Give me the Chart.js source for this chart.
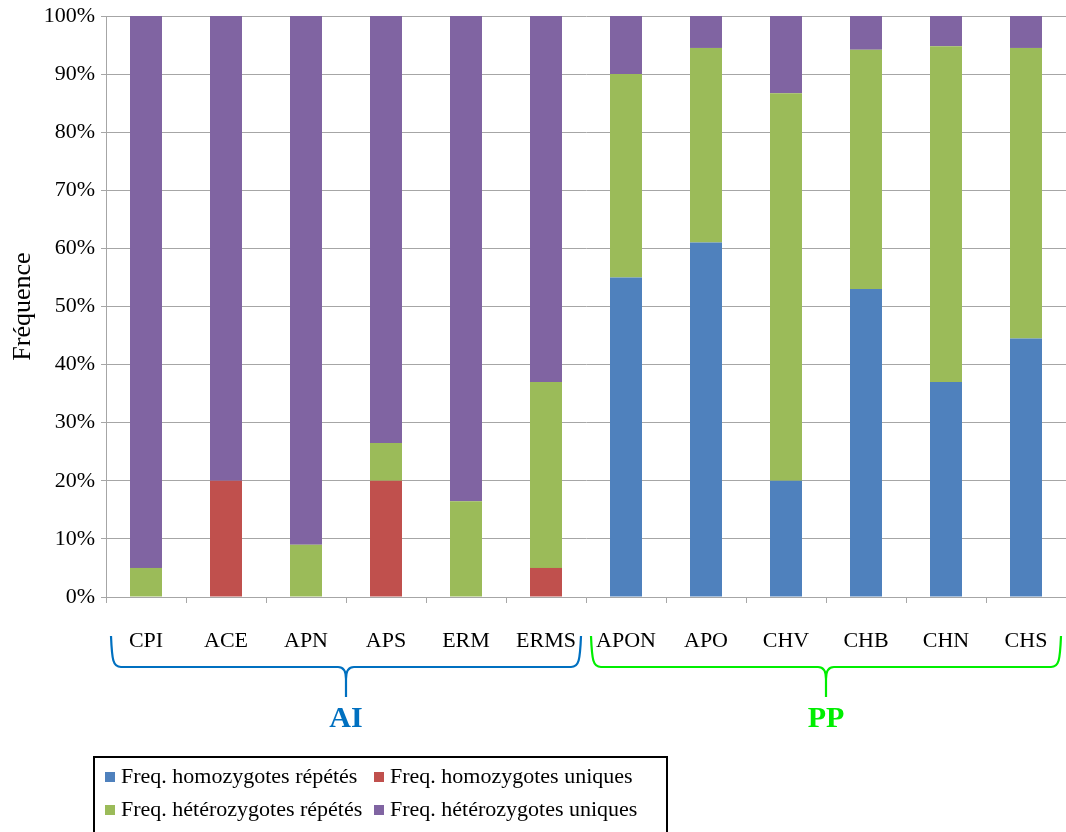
<!DOCTYPE html>
<html>
<head>
<meta charset="utf-8">
<script src="https://cdn.jsdelivr.net/npm/chart.js@4"></script>
<style>
  body { margin: 0; background: #fff; }
  #wrap { width: 1066px; height: 832px; position: relative; }
</style>
</head>
<body>
<div id="wrap"><canvas id="graphique"></canvas></div>
<script>
// Populations
const categories = ['CPI', 'ACE', 'APN', 'APS', 'ERM', 'ERMS', 'APON', 'APO', 'CHV', 'CHB', 'CHN', 'CHS'];

// Fréquences (%)
const homoRepetes   = [0, 0, 0, 0, 0, 0, 55, 61, 20, 53, 37, 44.5];
const homoUniques   = [0, 20, 0, 20, 0, 5, 0, 0, 0, 0, 0, 0];
const heteroRepetes = [5, 0, 9, 6.5, 16.5, 32, 35, 33.5, 66.7, 41.2, 57.8, 50];
const heteroUniques = [95, 80, 91, 73.5, 83.5, 63, 10, 5.5, 13.3, 5.8, 5.2, 5.5];

const seriesLabels = ['Freq. homozygotes répétés', 'Freq. homozygotes uniques',
                      'Freq. hétérozygotes répétés', 'Freq. hétérozygotes uniques'];
const seriesColors = ['#4F81BD', '#C0504D', '#9BBB59', '#8064A2'];

// Groupes sous l'axe X
const groupLabels = ['AI', 'PP'];
const groupFirst  = [0, 6];
const groupLast   = [5, 11];
const groupColors = ['#0070C0', '#00EE00'];

const yTicks = [0, 10, 20, 30, 40, 50, 60, 70, 80, 90, 100];

const serif = "'Liberation Serif', 'Times New Roman', serif";
const grille = '#A6A6A6';

// accolades + étiquettes de groupe
const accolades = {
    id: 'accolades',
    afterDraw(chart) {
        const ctx = chart.ctx;
        const x = chart.scales.x;
        const demi = (x.getPixelForValue(1) - x.getPixelForValue(0)) / 2;
        const haut = 636, milieu = 667, pointe = 697;
        groupLabels.forEach((lab, i) => {
            const x1 = x.getPixelForValue(groupFirst[i]) - demi + 5;
            const x2 = x.getPixelForValue(groupLast[i]) + demi - 5;
            const cx = (x1 + x2) / 2;
            ctx.save();
            ctx.strokeStyle = groupColors[i];
            ctx.lineWidth = 2.2;
            ctx.beginPath();
            ctx.moveTo(x1, haut);
            ctx.bezierCurveTo(x1 + 1, 660, x1 + 2, milieu, x1 + 10, milieu);
            ctx.lineTo(cx - 8, milieu);
            ctx.bezierCurveTo(cx - 2, milieu, cx, milieu + 5, cx, milieu + 12);
            ctx.lineTo(cx, pointe);
            ctx.moveTo(cx, milieu + 12);
            ctx.bezierCurveTo(cx, milieu + 5, cx + 2, milieu, cx + 8, milieu);
            ctx.lineTo(x2 - 10, milieu);
            ctx.bezierCurveTo(x2 - 2, milieu, x2 - 1, 660, x2, haut);
            ctx.stroke();
            ctx.fillStyle = groupColors[i];
            ctx.font = 'bold 30px ' + serif;
            ctx.textAlign = 'center';
            ctx.textBaseline = 'middle';
            ctx.fillText(lab, cx, 719);
            ctx.restore();
        });

        // légende encadrée en bas à gauche
        ctx.save();
        ctx.strokeStyle = '#000';
        ctx.lineWidth = 2;
        ctx.strokeRect(94, 757, 573, 100);
        ctx.font = '22px ' + serif;
        ctx.textBaseline = 'middle';
        ctx.textAlign = 'left';
        const colX = [105, 374];
        const rowY = [777, 810];
        chart.data.datasets.forEach((ds, i) => {
            const cx = colX[i % 2], cy = rowY[Math.floor(i / 2)];
            ctx.fillStyle = ds.backgroundColor;
            ctx.fillRect(cx, cy - 5, 10, 10);
            ctx.fillStyle = '#000';
            ctx.fillText(ds.label, cx + 16, cy);
        });
        ctx.restore();
    }
};

const ctx = document.getElementById('graphique').getContext('2d');

new Chart(ctx, {
    type: 'bar',
    data: {
        labels: categories,
        datasets: [homoRepetes, homoUniques, heteroRepetes, heteroUniques].map((d, i) => ({
            label: seriesLabels[i],
            data: d,
            backgroundColor: seriesColors[i],
            borderWidth: 0,
            barPercentage: 0.4,
            categoryPercentage: 1.0
        }))
    },
    options: {
        responsive: true,
        maintainAspectRatio: false,
        animation: false,
        layout: { padding: { top: 16, right: 0, left: 0, bottom: 0 } },
        plugins: {
            legend: { display: false },
            tooltip: { enabled: false }
        },
        scales: {
            x: {
                stacked: true,
                offset: true,
                grid: { display: true, drawOnChartArea: false, offset: true, color: grille, tickLength: 6 },
                border: { color: grille },
                ticks: { color: '#000', font: { family: serif, size: 22 }, padding: 25, maxRotation: 0 },
                afterFit(scale) {
                    scale.height = 235;
                    scale.paddingLeft = 0;
                    scale.paddingRight = 0;
                }
            },
            y: {
                stacked: true,
                min: 0,
                max: 100,
                afterBuildTicks(scale) { scale.ticks = yTicks.map(v => ({ value: v })); },
                grid: { color: grille, tickLength: 5 },
                border: { color: grille },
                ticks: {
                    color: '#000',
                    font: { family: serif, size: 22 },
                    padding: 6,
                    callback: v => v + '%'
                },
                title: {
                    display: true,
                    text: 'Fréquence',
                    color: '#000',
                    font: { family: serif, size: 26 },
                    padding: { top: 8, bottom: 0 }
                },
                afterFit(scale) {
                    scale.width = 106;
                    scale.paddingTop = 0;
                    scale.paddingBottom = 0;
                }
            }
        }
    },
    plugins: [accolades]
});
</script>
</body>
</html>
